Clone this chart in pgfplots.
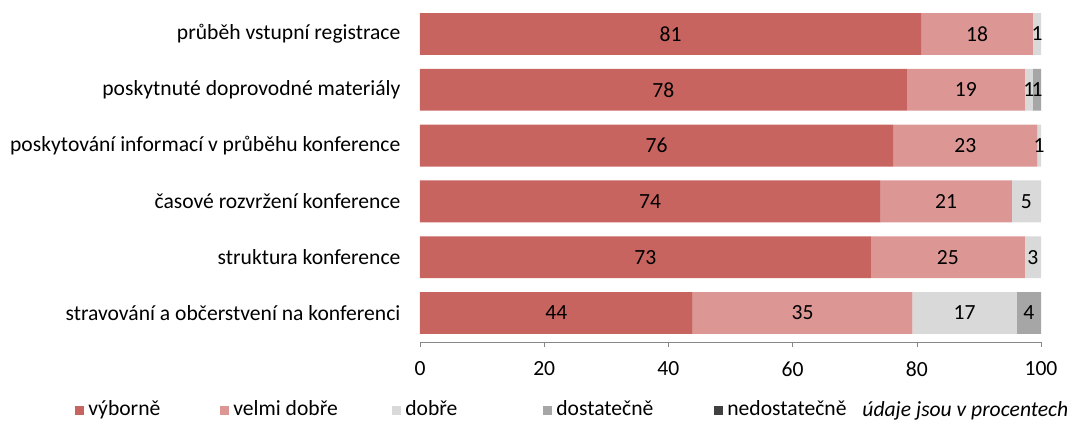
\documentclass[border=0pt]{standalone}
\usepackage{fontspec}
\setmainfont{Carlito}
\usepackage{pgfplots}
\usepackage{pgfplotstable}
\pgfplotsset{compat=1.18}

\definecolor{cvyb}{HTML}{C8645F}
\definecolor{cvel}{HTML}{DC9795}
\definecolor{cdob}{HTML}{D9D9D9}
\definecolor{cdos}{HTML}{A6A6A6}
\definecolor{cned}{HTML}{404040}
\definecolor{caxis}{HTML}{868686}

% y: 0 = bottom row ... 5 = top row; v = value (percent), lab = printed label
\pgfplotstableread{
y v lab
5 80.7 81
4 78.4 78
3 76.2 76
2 74.1 74
1 72.6 73
0 43.9 44
}\tvyb
\pgfplotstableread{
y v lab
5 18.0 18
4 19.0 19
3 23.2 23
2 21.2 21
1 24.8 25
0 35.4 35
}\tvel
\pgfplotstableread{
y v lab
5 1.3 1
4 1.3 1
3 0.6 1
2 4.7 5
1 2.6 3
0 16.8 17
}\tdob
\pgfplotstableread{
y v lab
5 0 {}
4 1.3 1
3 0 {}
2 0 {}
1 0 {}
0 3.9 4
}\tdos

\pgfplotsset{
  sqlegend/.style={legend image code/.code={\fill[##1] (0pt,-2.25pt) rectangle (4.5pt,2.25pt);}},
  lbl/.style={
    point meta=explicit symbolic,
    nodes near coords={\pgfplotspointmeta},
    every node near coord/.append style={anchor=center, inner sep=0pt, text=black},
  },
}

\begin{document}
\fontsize{10.8}{13}\selectfont
\begin{tikzpicture}
\useasboundingbox (-210pt,-39.5pt) rectangle (324pt,171pt);
\begin{axis}[
  at={(0,0)}, anchor=south west,
  scale only axis,
  width=310.5pt, height=168.5pt,
  xbar stacked,
  bar width=0.75,
  xmin=0, xmax=100,
  ymin=-0.52, ymax=5.52,
  xtick={0,20,40,60,80,100},
  ytick={0,1,2,3,4,5},
  yticklabels={stravování a občerstvení na konferenci,
               struktura konference,
               časové rozvržení konference,
               poskytování informací v průběhu konference,
               poskytnuté doprovodné materiály,
               průběh vstupní registrace},
  axis x line*=bottom,
  axis y line*=left,
  x axis line style={draw=caxis, -},
  y axis line style={draw=none},
  ytick style={draw=none},
  xtick style={draw=caxis},
  tick align=outside,
  major tick length=2.5pt,
  /pgf/number format/assume math mode=true,
  xticklabel style={yshift=-3.5pt},
  yticklabel style={xshift=-3.5pt},
  legend columns=-1,
  legend style={draw=none, fill=none, at={(-0.5556,-0.2018)}, anchor=west,
    inner xsep=0pt, inner ysep=0pt,
    nodes={inner sep=0pt}, cells={anchor=west},
    /tikz/column sep=0pt},
]
\addplot[fill=cvyb, draw=none, sqlegend, lbl] table[x=v, y=y, meta=lab] {\tvyb};
\addlegendentry{\makebox[68pt][l]{\hspace{2pt}výborně}}
\addplot[fill=cvel, draw=none, sqlegend, lbl] table[x=v, y=y, meta=lab] {\tvel};
\addlegendentry{\makebox[81.5pt][l]{\hspace{2pt}velmi dobře}}
\addplot[fill=cdob, draw=none, sqlegend, lbl] table[x=v, y=y, meta=lab] {\tdob};
\addlegendentry{\makebox[71pt][l]{\hspace{2pt}dobře}}
\addplot[fill=cdos, draw=none, sqlegend, lbl] table[x=v, y=y, meta=lab] {\tdos};
\addlegendentry{\makebox[81pt][l]{\hspace{2pt}dostatečně}}
\addlegendimage{fill=cned, draw=none, sqlegend}
\addlegendentry{\hspace{2pt}nedostatečně}
\end{axis}
\node[anchor=west, inner sep=0pt, font=\itshape] at (221pt,-34.5pt) {údaje jsou v procentech};
\end{tikzpicture}
\end{document}
